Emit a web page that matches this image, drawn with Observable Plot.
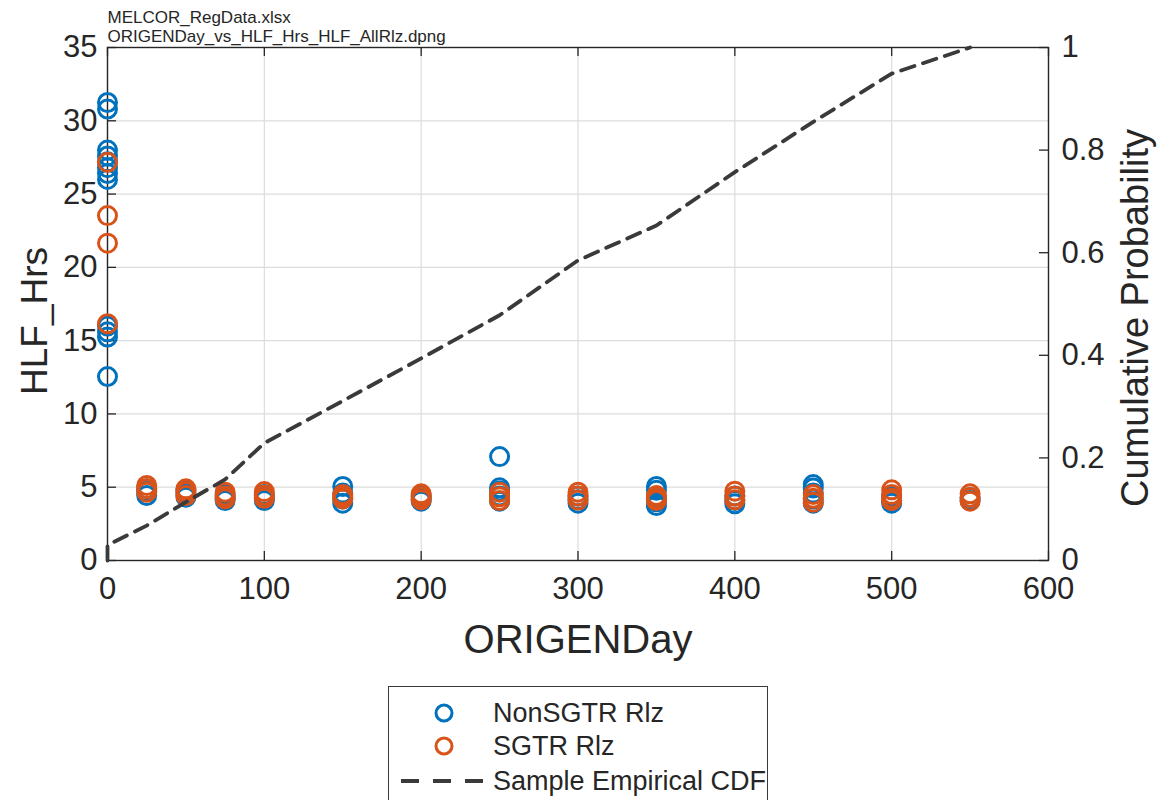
<!DOCTYPE html>
<html>
<head>
<meta charset="utf-8">
<script src="https://cdn.jsdelivr.net/npm/d3@7"></script>
<script src="https://cdn.jsdelivr.net/npm/@observablehq/plot@0.6"></script>
<style>
  html, body { margin: 0; padding: 0; background: #fff; }
  #page { position: relative; width: 1158px; height: 800px; overflow: hidden;
          font-family: "Liberation Sans", Arial, Helvetica, sans-serif; color: #262626; }
  #legend { position: absolute; left: 388px; top: 686px; width: 378px; height: 130px;
            border: 1.4px solid #3a3a3a; background: #fff; }
  #legend .item { position: absolute; left: 0; width: 100%; height: 30px; }
  #legend svg { position: absolute; left: 0; top: 0; }
  #legend span { position: absolute; left: 104px; top: 0; line-height: 30px; font-size: 27px; color: #262626; white-space: nowrap; }
</style>
</head>
<body>
<div id="page">
  <div id="chart"></div>
  <div id="legend"></div>
</div>
<script>
// ORIGEN burn-up day of each realization and its hydrogen-limit-flag time
const Y_MAX = 35;
const xTicks = [0, 100, 200, 300, 400, 500, 600];
const yTicks = [0, 5, 10, 15, 20, 25, 30, 35];
const probTicks = [0, 0.2, 0.4, 0.6, 0.8, 1];

const days = [0, 25, 50, 75, 100, 150, 200, 250, 300, 350, 400, 450, 500, 550];

// HLF_Hrs per ORIGENDay, non-SGTR realizations
const nonSgtrHrs = [
  [31.25, 30.8, 28.0, 27.6, 27.2, 26.8, 26.4, 26.0, 16.0, 15.6, 15.25, 12.55],
  [4.9, 4.7, 4.43],
  [4.8, 4.55, 4.32],
  [4.5, 4.3, 4.09],
  [4.5, 4.3, 4.09],
  [5.05, 4.6, 4.2, 3.91],
  [4.4, 4.2, 4.05],
  [7.09, 4.96, 4.75, 4.4, 4.05],
  [4.4, 4.15, 3.91],
  [5.05, 4.8, 4.3, 4.0, 3.75],
  [4.4, 4.1, 3.87],
  [5.18, 4.95, 4.6, 4.2, 3.91],
  [4.4, 4.1, 3.91],
  [4.3, 4.09]
];

// HLF_Hrs per ORIGENDay, SGTR realizations
const sgtrHrs = [
  [27.17, 23.53, 21.65, 16.15],
  [5.12, 4.9, 4.66],
  [4.89, 4.7, 4.43],
  [4.66, 4.4, 4.21],
  [4.7, 4.45, 4.25],
  [4.5, 4.35, 4.2],
  [4.55, 4.35, 4.15],
  [4.66, 4.35, 4.09],
  [4.66, 4.4, 4.12],
  [4.43, 4.25, 4.09],
  [4.73, 4.4, 4.14],
  [4.5, 4.25, 3.98],
  [4.82, 4.5, 4.25, 4.09],
  [4.55, 4.3, 4.05]
];

// Sample empirical CDF of ORIGENDay (right axis)
const cdfDays = [0, 0, 25, 50, 75, 100, 150, 200, 250, 300, 350, 400, 450, 500, 550];
const cdfProb = [0, 0.03, 0.068, 0.114, 0.158, 0.229, 0.311, 0.394, 0.478, 0.585, 0.653, 0.757, 0.855, 0.949, 1.0];

const BLUE = "#0072BD";
const ORANGE = "#D95319";
const CDF_COLOR = "#3a3a3a";

const toRows = (groups) => days.flatMap((day, i) => groups[i].map(hrs => ({day, hrs})));
const nonRows = toRows(nonSgtrHrs);
const sgtrRows = toRows(sgtrHrs);
const cdfRows = cdfDays.map((day, i) => ({day, p: cdfProb[i]}));

const W = 1158, H = 680;
const M = {top: 47, right: 110, bottom: 120, left: 107};
const plotW = W - M.left - M.right;
const plotH = H - M.top - M.bottom;
const TICK = 9;
const FONT = "'Liberation Sans', Arial, Helvetica, sans-serif";
const TICK_FONT = 31;

const chart = Plot.plot({
  width: W,
  height: H,
  marginTop: M.top,
  marginRight: M.right,
  marginBottom: M.bottom,
  marginLeft: M.left,
  style: {fontFamily: FONT, fontSize: TICK_FONT + "px", color: "#262626", background: "#fff", overflow: "visible"},
  x: {domain: [0, 600], axis: null},
  y: {domain: [0, Y_MAX], axis: null},
  marks: [
    // grid
    Plot.ruleX(xTicks, {x: d => d, stroke: "#dcdcdc", strokeWidth: 1.2}),
    Plot.ruleY(yTicks, {y: d => d, stroke: "#dcdcdc", strokeWidth: 1.2}),
    // inward tick marks
    Plot.tickX(xTicks, {x: d => d, insetTop: plotH - TICK, stroke: "#262626", strokeWidth: 1.3}),
    Plot.tickX(xTicks, {x: d => d, insetBottom: plotH - TICK, stroke: "#262626", strokeWidth: 1.3}),
    Plot.tickY(yTicks, {y: d => d, insetRight: plotW - TICK, stroke: "#262626", strokeWidth: 1.3}),
    Plot.tickY(probTicks, {y: p => p * Y_MAX, insetLeft: plotW - TICK, stroke: "#262626", strokeWidth: 1.3}),
    Plot.frame({stroke: "#262626", strokeWidth: 1.4}),
    // tick labels
    Plot.axisX({ticks: xTicks, tickSize: 0, tickPadding: 16, fontSize: TICK_FONT, label: null}),
    Plot.axisY({ticks: yTicks, tickSize: 0, tickPadding: 10, fontSize: TICK_FONT, label: null}),
    Plot.axisY({
      anchor: "right",
      ticks: probTicks.map(p => p * Y_MAX),
      tickFormat: d => String(+(d / Y_MAX).toFixed(2)),
      tickSize: 0, tickPadding: 13, fontSize: TICK_FONT, label: null
    }),
    // realizations
    Plot.dot(nonRows, {x: "day", y: "hrs", r: 9, stroke: BLUE, strokeWidth: 3, fill: "none", symbol: "circle"}),
    Plot.dot(sgtrRows, {x: "day", y: "hrs", r: 9, stroke: ORANGE, strokeWidth: 3, fill: "none", symbol: "circle"}),
    // empirical CDF on the probability axis
    Plot.line(cdfRows, {x: "day", y: d => d.p * Y_MAX, stroke: CDF_COLOR, strokeWidth: 3.8, strokeDasharray: "14,9", curve: "linear"}),
    // axis titles
    Plot.text(["HLF_Hrs"], {text: d => d, frameAnchor: "left", textAnchor: "middle", dx: -72, dy: 17, rotate: -90, fontSize: 37, fill: "#262626"}),
    Plot.text(["ORIGENDay"], {text: d => d, frameAnchor: "bottom", textAnchor: "middle", dy: 92, fontSize: 40, fill: "#262626"}),
    Plot.text(["Cumulative Probability"], {text: d => d, frameAnchor: "right", textAnchor: "middle", dx: 87, dy: 14, rotate: -90, fontSize: 38, fill: "#262626"}),
    // file captions
    Plot.text(["MELCOR_RegData.xlsx"], {text: d => d, frameAnchor: "top-left", textAnchor: "start", dy: -37, fontSize: 17, fill: "#262626"}),
    Plot.text(["ORIGENDay_vs_HLF_Hrs_HLF_AllRlz.dpng"], {text: d => d, frameAnchor: "top-left", textAnchor: "start", dy: -18, fontSize: 17, fill: "#262626"})
  ]
});
document.getElementById("chart").appendChild(chart);

// legend
const legendItems = [
  {label: "NonSGTR Rlz", kind: "dot", color: BLUE, top: 11},
  {label: "SGTR Rlz", kind: "dot", color: ORANGE, top: 44},
  {label: "Sample Empirical CDF", kind: "line", color: CDF_COLOR, top: 79}
];
const legend = document.getElementById("legend");
for (const it of legendItems) {
  const row = document.createElement("div");
  row.className = "item";
  row.style.top = it.top + "px";
  const glyph = it.kind === "dot"
    ? `<circle cx="55" cy="15" r="8" fill="none" stroke="${it.color}" stroke-width="3"/>`
    : `<line x1="12" x2="95" y1="15" y2="15" stroke="${it.color}" stroke-width="3.8" stroke-dasharray="18,14"/>`;
  row.innerHTML = `<svg width="110" height="30">${glyph}</svg><span>${it.label}</span>`;
  legend.appendChild(row);
}
</script>
</body>
</html>
